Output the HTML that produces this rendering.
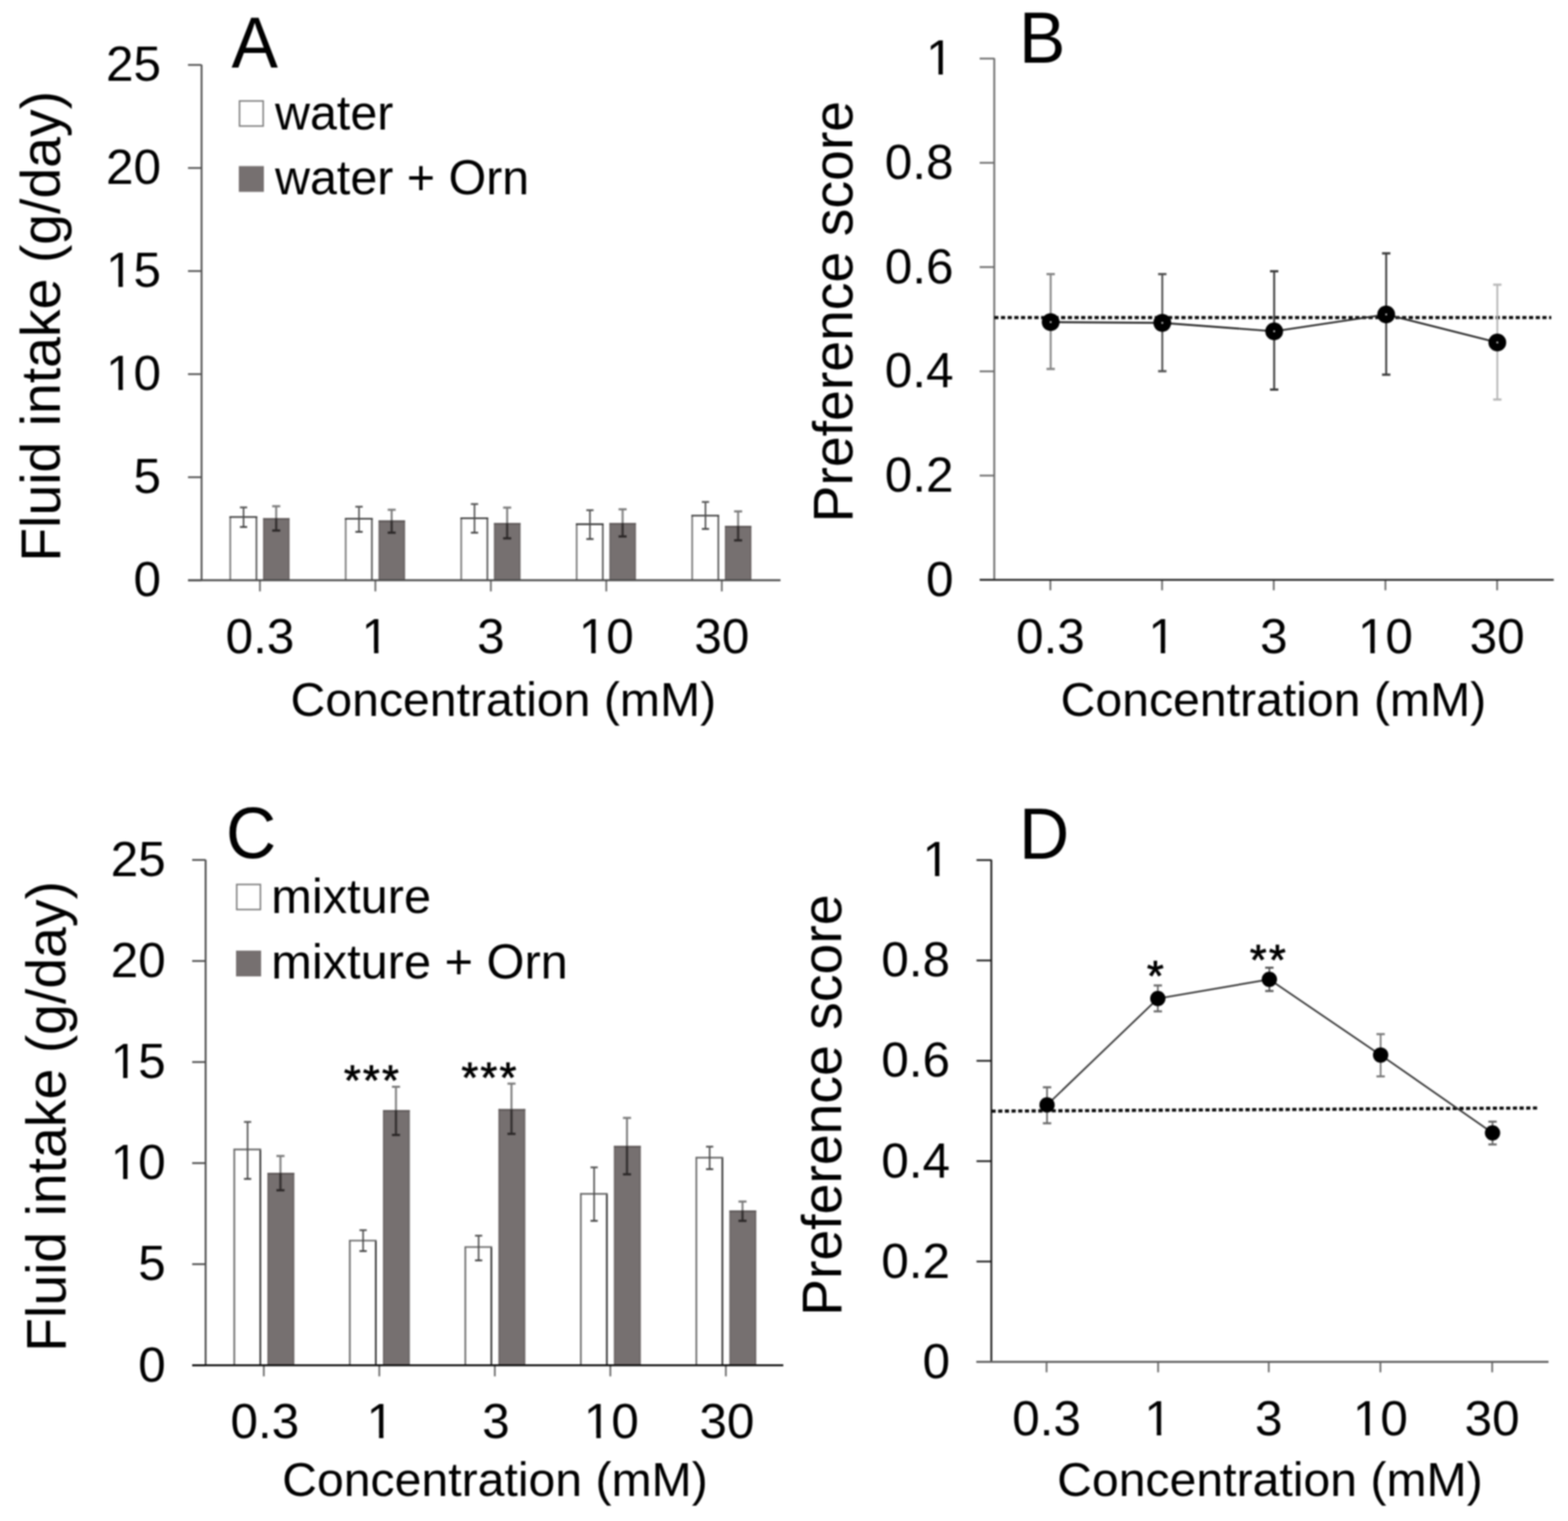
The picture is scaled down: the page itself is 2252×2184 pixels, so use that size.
<!DOCTYPE html>
<html><head><meta charset="utf-8"><title>Figure</title>
<style>html,body{margin:0;padding:0;background:#fff;}svg{display:block;filter:blur(0.9px);}</style>
</head><body>
<svg width="2252" height="2184" viewBox="0 0 2252 2184" font-family='"Liberation Sans", Arial, sans-serif' fill="#000">
<rect width="2252" height="2184" fill="#fff"/>
<line x1="270.0" y1="833.2" x2="289.5" y2="833.2" stroke="#505050" stroke-width="2.5" />
<text x="231.3" y="856.4" font-size="71" text-anchor="end" >0</text>
<line x1="270.0" y1="685.2" x2="289.5" y2="685.2" stroke="#505050" stroke-width="2.5" />
<text x="231.3" y="708.4" font-size="71" text-anchor="end" >5</text>
<line x1="270.0" y1="537.2" x2="289.5" y2="537.2" stroke="#505050" stroke-width="2.5" />
<text x="231.3" y="560.4" font-size="71" text-anchor="end" >10</text>
<rect x="156.23" y="553.90" width="13.95" height="8.00" fill="#fff"/>
<rect x="176.46" y="553.90" width="13.39" height="8.00" fill="#fff"/>
<line x1="270.0" y1="389.2" x2="289.5" y2="389.2" stroke="#505050" stroke-width="2.5" />
<text x="231.3" y="412.4" font-size="71" text-anchor="end" >15</text>
<rect x="156.23" y="405.90" width="13.95" height="8.00" fill="#fff"/>
<rect x="176.46" y="405.90" width="13.39" height="8.00" fill="#fff"/>
<line x1="270.0" y1="241.2" x2="289.5" y2="241.2" stroke="#505050" stroke-width="2.5" />
<text x="231.3" y="264.4" font-size="71" text-anchor="end" >20</text>
<line x1="270.0" y1="93.2" x2="289.5" y2="93.2" stroke="#505050" stroke-width="2.5" />
<text x="231.3" y="116.4" font-size="71" text-anchor="end" >25</text>
<rect x="377.9" y="743.9" width="37.8" height="89.3" fill="#767070"/>
<line x1="378.9" y1="743.9" x2="378.9" y2="833.2" stroke="#6a6464" stroke-width="2" />
<line x1="414.7" y1="743.9" x2="414.7" y2="833.2" stroke="#6a6464" stroke-width="2" />
<line x1="377.9" y1="745.1" x2="415.7" y2="745.1" stroke="#5e5858" stroke-width="2.4" />
<line x1="330.7" y1="742.4" x2="330.7" y2="833.2" stroke="#7a7a7a" stroke-width="2.4" />
<line x1="368.3" y1="742.4" x2="368.3" y2="833.2" stroke="#5a5a5a" stroke-width="2.4" />
<line x1="329.5" y1="742.4" x2="369.5" y2="742.4" stroke="#383838" stroke-width="2.4" />
<line x1="349.8" y1="728.6" x2="349.8" y2="756.7" stroke="#4a4a4a" stroke-width="2.2" />
<line x1="344.6" y1="728.6" x2="355.0" y2="728.6" stroke="#555" stroke-width="2.6" />
<line x1="344.6" y1="756.7" x2="355.0" y2="756.7" stroke="#444" stroke-width="2.6" />
<line x1="396.7" y1="726.9" x2="396.7" y2="743.9" stroke="#858585" stroke-width="3" />
<line x1="396.7" y1="743.9" x2="396.7" y2="761.8" stroke="#363232" stroke-width="3.4" />
<line x1="390.9" y1="726.9" x2="402.5" y2="726.9" stroke="#7a7a7a" stroke-width="3" />
<line x1="390.9" y1="761.8" x2="402.5" y2="761.8" stroke="#2a2626" stroke-width="3.2" />
<line x1="373.3" y1="833.2" x2="373.3" y2="849.2" stroke="#6a6a6a" stroke-width="2.5" />
<rect x="543.8" y="747.3" width="37.8" height="85.9" fill="#767070"/>
<line x1="544.8" y1="747.3" x2="544.8" y2="833.2" stroke="#6a6464" stroke-width="2" />
<line x1="580.5" y1="747.3" x2="580.5" y2="833.2" stroke="#6a6464" stroke-width="2" />
<line x1="543.8" y1="748.5" x2="581.5" y2="748.5" stroke="#5e5858" stroke-width="2.4" />
<line x1="496.5" y1="744.9" x2="496.5" y2="833.2" stroke="#7a7a7a" stroke-width="2.4" />
<line x1="534.1" y1="744.9" x2="534.1" y2="833.2" stroke="#5a5a5a" stroke-width="2.4" />
<line x1="495.3" y1="744.9" x2="535.4" y2="744.9" stroke="#383838" stroke-width="2.4" />
<line x1="515.6" y1="727.6" x2="515.6" y2="763.7" stroke="#4a4a4a" stroke-width="2.2" />
<line x1="510.4" y1="727.6" x2="520.9" y2="727.6" stroke="#555" stroke-width="2.6" />
<line x1="510.4" y1="763.7" x2="520.9" y2="763.7" stroke="#444" stroke-width="2.6" />
<line x1="562.5" y1="732.0" x2="562.5" y2="747.3" stroke="#858585" stroke-width="3" />
<line x1="562.5" y1="747.3" x2="562.5" y2="764.9" stroke="#363232" stroke-width="3.4" />
<line x1="556.8" y1="732.0" x2="568.3" y2="732.0" stroke="#7a7a7a" stroke-width="3" />
<line x1="556.8" y1="764.9" x2="568.3" y2="764.9" stroke="#2a2626" stroke-width="3.2" />
<line x1="539.1" y1="833.2" x2="539.1" y2="849.2" stroke="#6a6a6a" stroke-width="2.5" />
<rect x="709.6" y="750.9" width="37.8" height="82.3" fill="#767070"/>
<line x1="710.6" y1="750.9" x2="710.6" y2="833.2" stroke="#6a6464" stroke-width="2" />
<line x1="746.4" y1="750.9" x2="746.4" y2="833.2" stroke="#6a6464" stroke-width="2" />
<line x1="709.6" y1="752.1" x2="747.4" y2="752.1" stroke="#5e5858" stroke-width="2.4" />
<line x1="662.4" y1="744.1" x2="662.4" y2="833.2" stroke="#7a7a7a" stroke-width="2.4" />
<line x1="700.0" y1="744.1" x2="700.0" y2="833.2" stroke="#5a5a5a" stroke-width="2.4" />
<line x1="661.2" y1="744.1" x2="701.2" y2="744.1" stroke="#383838" stroke-width="2.4" />
<line x1="681.5" y1="723.8" x2="681.5" y2="764.9" stroke="#4a4a4a" stroke-width="2.2" />
<line x1="676.3" y1="723.8" x2="686.7" y2="723.8" stroke="#555" stroke-width="2.6" />
<line x1="676.3" y1="764.9" x2="686.7" y2="764.9" stroke="#444" stroke-width="2.6" />
<line x1="728.4" y1="728.9" x2="728.4" y2="750.9" stroke="#858585" stroke-width="3" />
<line x1="728.4" y1="750.9" x2="728.4" y2="773.0" stroke="#363232" stroke-width="3.4" />
<line x1="722.6" y1="728.9" x2="734.2" y2="728.9" stroke="#7a7a7a" stroke-width="3" />
<line x1="722.6" y1="773.0" x2="734.2" y2="773.0" stroke="#2a2626" stroke-width="3.2" />
<line x1="705.0" y1="833.2" x2="705.0" y2="849.2" stroke="#6a6a6a" stroke-width="2.5" />
<rect x="875.4" y="750.9" width="37.8" height="82.3" fill="#767070"/>
<line x1="876.4" y1="750.9" x2="876.4" y2="833.2" stroke="#6a6464" stroke-width="2" />
<line x1="912.2" y1="750.9" x2="912.2" y2="833.2" stroke="#6a6464" stroke-width="2" />
<line x1="875.4" y1="752.1" x2="913.2" y2="752.1" stroke="#5e5858" stroke-width="2.4" />
<line x1="828.2" y1="752.7" x2="828.2" y2="833.2" stroke="#7a7a7a" stroke-width="2.4" />
<line x1="865.8" y1="752.7" x2="865.8" y2="833.2" stroke="#5a5a5a" stroke-width="2.4" />
<line x1="827.0" y1="752.7" x2="867.0" y2="752.7" stroke="#383838" stroke-width="2.4" />
<line x1="847.3" y1="732.6" x2="847.3" y2="774.0" stroke="#4a4a4a" stroke-width="2.2" />
<line x1="842.1" y1="732.6" x2="852.5" y2="732.6" stroke="#555" stroke-width="2.6" />
<line x1="842.1" y1="774.0" x2="852.5" y2="774.0" stroke="#444" stroke-width="2.6" />
<line x1="894.2" y1="731.3" x2="894.2" y2="750.9" stroke="#858585" stroke-width="3" />
<line x1="894.2" y1="750.9" x2="894.2" y2="770.3" stroke="#363232" stroke-width="3.4" />
<line x1="888.4" y1="731.3" x2="900.0" y2="731.3" stroke="#7a7a7a" stroke-width="3" />
<line x1="888.4" y1="770.3" x2="900.0" y2="770.3" stroke="#2a2626" stroke-width="3.2" />
<line x1="870.8" y1="833.2" x2="870.8" y2="849.2" stroke="#6a6a6a" stroke-width="2.5" />
<rect x="1041.3" y="755.1" width="37.8" height="78.1" fill="#767070"/>
<line x1="1042.3" y1="755.1" x2="1042.3" y2="833.2" stroke="#6a6464" stroke-width="2" />
<line x1="1078.1" y1="755.1" x2="1078.1" y2="833.2" stroke="#6a6464" stroke-width="2" />
<line x1="1041.3" y1="756.3" x2="1079.1" y2="756.3" stroke="#5e5858" stroke-width="2.4" />
<line x1="994.1" y1="740.4" x2="994.1" y2="833.2" stroke="#7a7a7a" stroke-width="2.4" />
<line x1="1031.7" y1="740.4" x2="1031.7" y2="833.2" stroke="#5a5a5a" stroke-width="2.4" />
<line x1="992.9" y1="740.4" x2="1032.9" y2="740.4" stroke="#383838" stroke-width="2.4" />
<line x1="1013.2" y1="720.8" x2="1013.2" y2="759.5" stroke="#4a4a4a" stroke-width="2.2" />
<line x1="1008.0" y1="720.8" x2="1018.4" y2="720.8" stroke="#555" stroke-width="2.6" />
<line x1="1008.0" y1="759.5" x2="1018.4" y2="759.5" stroke="#444" stroke-width="2.6" />
<line x1="1060.1" y1="734.3" x2="1060.1" y2="755.1" stroke="#858585" stroke-width="3" />
<line x1="1060.1" y1="755.1" x2="1060.1" y2="775.9" stroke="#363232" stroke-width="3.4" />
<line x1="1054.3" y1="734.3" x2="1065.9" y2="734.3" stroke="#7a7a7a" stroke-width="3" />
<line x1="1054.3" y1="775.9" x2="1065.9" y2="775.9" stroke="#2a2626" stroke-width="3.2" />
<line x1="1036.7" y1="833.2" x2="1036.7" y2="849.2" stroke="#6a6a6a" stroke-width="2.5" />
<line x1="289.5" y1="93.0" x2="289.5" y2="833.2" stroke="#505050" stroke-width="2.6" />
<line x1="270.0" y1="833.2" x2="1121.0" y2="833.2" stroke="#484848" stroke-width="2.8" />
<text x="373.3" y="938.2" font-size="71" text-anchor="middle" >0.3</text>
<text x="539.1" y="938.2" font-size="71" text-anchor="middle" >1</text>
<rect x="523.31" y="931.70" width="13.95" height="8.00" fill="#fff"/>
<rect x="543.54" y="931.70" width="13.39" height="8.00" fill="#fff"/>
<text x="705.0" y="938.2" font-size="71" text-anchor="middle" >3</text>
<text x="870.8" y="938.2" font-size="71" text-anchor="middle" >10</text>
<rect x="835.27" y="931.70" width="13.95" height="8.00" fill="#fff"/>
<rect x="855.49" y="931.70" width="13.39" height="8.00" fill="#fff"/>
<text x="1036.7" y="938.2" font-size="71" text-anchor="middle" >30</text>
<text x="417.3" y="1027.6" font-size="69.2" text-anchor="start" >Concentration (mM)</text>
<text transform="translate(86.4,806.5) rotate(-90)" font-size="79.5">Fluid intake (g/day)</text>
<rect x="344.0" y="145.0" width="34.0" height="36.0" fill="#fff" stroke="#808080" stroke-width="2.2"/>
<rect x="343.0" y="238.5" width="36.0" height="37.0" fill="#767070"/>
<text x="395.0" y="186.2" font-size="69.5" text-anchor="start" >water</text>
<text x="395.0" y="279.3" font-size="69.5" text-anchor="start" >water + Orn</text>
<text transform="translate(332.5,96.5) scale(1,1.035)" font-size="100">A</text>
<line x1="276.0" y1="1960.3" x2="295.3" y2="1960.3" stroke="#484848" stroke-width="2.5" />
<text x="238.0" y="1983.5" font-size="71" text-anchor="end" >0</text>
<line x1="276.0" y1="1815.2" x2="295.3" y2="1815.2" stroke="#484848" stroke-width="2.5" />
<text x="238.0" y="1838.4" font-size="71" text-anchor="end" >5</text>
<line x1="276.0" y1="1670.1" x2="295.3" y2="1670.1" stroke="#484848" stroke-width="2.5" />
<text x="238.0" y="1693.3" font-size="71" text-anchor="end" >10</text>
<rect x="162.93" y="1686.80" width="13.95" height="8.00" fill="#fff"/>
<rect x="183.16" y="1686.80" width="13.39" height="8.00" fill="#fff"/>
<line x1="276.0" y1="1525.0" x2="295.3" y2="1525.0" stroke="#484848" stroke-width="2.5" />
<text x="238.0" y="1548.2" font-size="71" text-anchor="end" >15</text>
<rect x="162.93" y="1541.70" width="13.95" height="8.00" fill="#fff"/>
<rect x="183.16" y="1541.70" width="13.39" height="8.00" fill="#fff"/>
<line x1="276.0" y1="1379.9" x2="295.3" y2="1379.9" stroke="#484848" stroke-width="2.5" />
<text x="238.0" y="1403.1" font-size="71" text-anchor="end" >20</text>
<line x1="276.0" y1="1234.8" x2="295.3" y2="1234.8" stroke="#484848" stroke-width="2.5" />
<text x="238.0" y="1258.0" font-size="71" text-anchor="end" >25</text>
<rect x="384.1" y="1684.1" width="38.4" height="276.2" fill="#767070"/>
<line x1="385.1" y1="1684.1" x2="385.1" y2="1960.3" stroke="#6a6464" stroke-width="2" />
<line x1="421.5" y1="1684.1" x2="421.5" y2="1960.3" stroke="#6a6464" stroke-width="2" />
<line x1="384.1" y1="1685.3" x2="422.5" y2="1685.3" stroke="#5e5858" stroke-width="2.4" />
<line x1="336.5" y1="1650.5" x2="336.5" y2="1960.3" stroke="#6a6a6a" stroke-width="2.4" />
<line x1="373.9" y1="1650.5" x2="373.9" y2="1960.3" stroke="#2e2e2e" stroke-width="2.4" />
<line x1="335.3" y1="1650.5" x2="375.1" y2="1650.5" stroke="#6a6a6a" stroke-width="2.4" />
<line x1="355.6" y1="1611.0" x2="355.6" y2="1692.8" stroke="#4a4a4a" stroke-width="2.2" />
<line x1="350.4" y1="1611.0" x2="360.8" y2="1611.0" stroke="#555" stroke-width="2.6" />
<line x1="350.4" y1="1692.8" x2="360.8" y2="1692.8" stroke="#444" stroke-width="2.6" />
<line x1="402.8" y1="1659.9" x2="402.8" y2="1684.1" stroke="#858585" stroke-width="3" />
<line x1="402.8" y1="1684.1" x2="402.8" y2="1709.1" stroke="#363232" stroke-width="3.4" />
<line x1="397.0" y1="1659.9" x2="408.6" y2="1659.9" stroke="#7a7a7a" stroke-width="3" />
<line x1="397.0" y1="1709.1" x2="408.6" y2="1709.1" stroke="#2a2626" stroke-width="3.2" />
<line x1="378.9" y1="1960.3" x2="378.9" y2="1976.3" stroke="#6a6a6a" stroke-width="2.5" />
<rect x="550.0" y="1593.9" width="38.4" height="366.4" fill="#767070"/>
<line x1="551.0" y1="1593.9" x2="551.0" y2="1960.3" stroke="#6a6464" stroke-width="2" />
<line x1="587.4" y1="1593.9" x2="587.4" y2="1960.3" stroke="#6a6464" stroke-width="2" />
<line x1="550.0" y1="1595.1" x2="588.4" y2="1595.1" stroke="#5e5858" stroke-width="2.4" />
<line x1="502.4" y1="1781.4" x2="502.4" y2="1960.3" stroke="#6a6a6a" stroke-width="2.4" />
<line x1="539.8" y1="1781.4" x2="539.8" y2="1960.3" stroke="#2e2e2e" stroke-width="2.4" />
<line x1="501.2" y1="1781.4" x2="541.0" y2="1781.4" stroke="#6a6a6a" stroke-width="2.4" />
<line x1="521.5" y1="1766.4" x2="521.5" y2="1796.4" stroke="#4a4a4a" stroke-width="2.2" />
<line x1="516.3" y1="1766.4" x2="526.7" y2="1766.4" stroke="#555" stroke-width="2.6" />
<line x1="516.3" y1="1796.4" x2="526.7" y2="1796.4" stroke="#444" stroke-width="2.6" />
<line x1="568.7" y1="1560.5" x2="568.7" y2="1593.9" stroke="#858585" stroke-width="3" />
<line x1="568.7" y1="1593.9" x2="568.7" y2="1629.7" stroke="#363232" stroke-width="3.4" />
<line x1="562.9" y1="1560.5" x2="574.5" y2="1560.5" stroke="#7a7a7a" stroke-width="3" />
<line x1="562.9" y1="1629.7" x2="574.5" y2="1629.7" stroke="#2a2626" stroke-width="3.2" />
<line x1="544.8" y1="1960.3" x2="544.8" y2="1976.3" stroke="#6a6a6a" stroke-width="2.5" />
<rect x="715.9" y="1592.6" width="38.4" height="367.7" fill="#767070"/>
<line x1="716.9" y1="1592.6" x2="716.9" y2="1960.3" stroke="#6a6464" stroke-width="2" />
<line x1="753.3" y1="1592.6" x2="753.3" y2="1960.3" stroke="#6a6464" stroke-width="2" />
<line x1="715.9" y1="1593.8" x2="754.3" y2="1593.8" stroke="#5e5858" stroke-width="2.4" />
<line x1="668.3" y1="1790.6" x2="668.3" y2="1960.3" stroke="#6a6a6a" stroke-width="2.4" />
<line x1="705.7" y1="1790.6" x2="705.7" y2="1960.3" stroke="#2e2e2e" stroke-width="2.4" />
<line x1="667.1" y1="1790.6" x2="706.9" y2="1790.6" stroke="#6a6a6a" stroke-width="2.4" />
<line x1="687.4" y1="1774.3" x2="687.4" y2="1809.8" stroke="#4a4a4a" stroke-width="2.2" />
<line x1="682.2" y1="1774.3" x2="692.6" y2="1774.3" stroke="#555" stroke-width="2.6" />
<line x1="682.2" y1="1809.8" x2="692.6" y2="1809.8" stroke="#444" stroke-width="2.6" />
<line x1="734.6" y1="1556.0" x2="734.6" y2="1592.6" stroke="#858585" stroke-width="3" />
<line x1="734.6" y1="1592.6" x2="734.6" y2="1628.1" stroke="#363232" stroke-width="3.4" />
<line x1="728.8" y1="1556.0" x2="740.4" y2="1556.0" stroke="#7a7a7a" stroke-width="3" />
<line x1="728.8" y1="1628.1" x2="740.4" y2="1628.1" stroke="#2a2626" stroke-width="3.2" />
<line x1="710.7" y1="1960.3" x2="710.7" y2="1976.3" stroke="#6a6a6a" stroke-width="2.5" />
<rect x="881.8" y="1645.4" width="38.4" height="314.9" fill="#767070"/>
<line x1="882.8" y1="1645.4" x2="882.8" y2="1960.3" stroke="#6a6464" stroke-width="2" />
<line x1="919.2" y1="1645.4" x2="919.2" y2="1960.3" stroke="#6a6464" stroke-width="2" />
<line x1="881.8" y1="1646.6" x2="920.2" y2="1646.6" stroke="#5e5858" stroke-width="2.4" />
<line x1="834.2" y1="1714.3" x2="834.2" y2="1960.3" stroke="#6a6a6a" stroke-width="2.4" />
<line x1="871.6" y1="1714.3" x2="871.6" y2="1960.3" stroke="#2e2e2e" stroke-width="2.4" />
<line x1="833.0" y1="1714.3" x2="872.8" y2="1714.3" stroke="#6a6a6a" stroke-width="2.4" />
<line x1="853.3" y1="1676.2" x2="853.3" y2="1753.0" stroke="#4a4a4a" stroke-width="2.2" />
<line x1="848.1" y1="1676.2" x2="858.5" y2="1676.2" stroke="#555" stroke-width="2.6" />
<line x1="848.1" y1="1753.0" x2="858.5" y2="1753.0" stroke="#444" stroke-width="2.6" />
<line x1="900.5" y1="1605.2" x2="900.5" y2="1645.4" stroke="#858585" stroke-width="3" />
<line x1="900.5" y1="1645.4" x2="900.5" y2="1686.2" stroke="#363232" stroke-width="3.4" />
<line x1="894.7" y1="1605.2" x2="906.3" y2="1605.2" stroke="#7a7a7a" stroke-width="3" />
<line x1="894.7" y1="1686.2" x2="906.3" y2="1686.2" stroke="#2a2626" stroke-width="3.2" />
<line x1="876.6" y1="1960.3" x2="876.6" y2="1976.3" stroke="#6a6a6a" stroke-width="2.5" />
<rect x="1047.7" y="1738.0" width="38.4" height="222.3" fill="#767070"/>
<line x1="1048.7" y1="1738.0" x2="1048.7" y2="1960.3" stroke="#6a6464" stroke-width="2" />
<line x1="1085.1" y1="1738.0" x2="1085.1" y2="1960.3" stroke="#6a6464" stroke-width="2" />
<line x1="1047.7" y1="1739.2" x2="1086.1" y2="1739.2" stroke="#5e5858" stroke-width="2.4" />
<line x1="1000.1" y1="1662.2" x2="1000.1" y2="1960.3" stroke="#6a6a6a" stroke-width="2.4" />
<line x1="1037.5" y1="1662.2" x2="1037.5" y2="1960.3" stroke="#2e2e2e" stroke-width="2.4" />
<line x1="998.9" y1="1662.2" x2="1038.7" y2="1662.2" stroke="#6a6a6a" stroke-width="2.4" />
<line x1="1019.2" y1="1646.5" x2="1019.2" y2="1678.8" stroke="#4a4a4a" stroke-width="2.2" />
<line x1="1014.0" y1="1646.5" x2="1024.4" y2="1646.5" stroke="#555" stroke-width="2.6" />
<line x1="1014.0" y1="1678.8" x2="1024.4" y2="1678.8" stroke="#444" stroke-width="2.6" />
<line x1="1066.4" y1="1725.3" x2="1066.4" y2="1738.0" stroke="#858585" stroke-width="3" />
<line x1="1066.4" y1="1738.0" x2="1066.4" y2="1753.0" stroke="#363232" stroke-width="3.4" />
<line x1="1060.6" y1="1725.3" x2="1072.2" y2="1725.3" stroke="#7a7a7a" stroke-width="3" />
<line x1="1060.6" y1="1753.0" x2="1072.2" y2="1753.0" stroke="#2a2626" stroke-width="3.2" />
<line x1="1042.5" y1="1960.3" x2="1042.5" y2="1976.3" stroke="#6a6a6a" stroke-width="2.5" />
<line x1="295.3" y1="1234.5" x2="295.3" y2="1960.3" stroke="#484848" stroke-width="2.6" />
<line x1="276.0" y1="1960.3" x2="1125.0" y2="1960.3" stroke="#0a0a0a" stroke-width="2.8" />
<text x="380.4" y="2065.3" font-size="71" text-anchor="middle" >0.3</text>
<text x="546.3" y="2065.3" font-size="71" text-anchor="middle" >1</text>
<rect x="530.46" y="2058.80" width="13.95" height="8.00" fill="#fff"/>
<rect x="550.69" y="2058.80" width="13.39" height="8.00" fill="#fff"/>
<text x="712.2" y="2065.3" font-size="71" text-anchor="middle" >3</text>
<text x="878.1" y="2065.3" font-size="71" text-anchor="middle" >10</text>
<rect x="842.52" y="2058.80" width="13.95" height="8.00" fill="#fff"/>
<rect x="862.74" y="2058.80" width="13.39" height="8.00" fill="#fff"/>
<text x="1044.0" y="2065.3" font-size="71" text-anchor="middle" >30</text>
<text x="405.2" y="2147.5" font-size="69.2" text-anchor="start" >Concentration (mM)</text>
<text transform="translate(93.5,1941.0) rotate(-90)" font-size="79.5">Fluid intake (g/day)</text>
<rect x="340.0" y="1270.0" width="34.0" height="36.0" fill="#fff" stroke="#808080" stroke-width="2.2"/>
<rect x="339.0" y="1365.0" width="36.0" height="37.0" fill="#767070"/>
<text x="389.6" y="1311.4" font-size="70" text-anchor="start" >mixture</text>
<text x="389.6" y="1405.4" font-size="70" text-anchor="start" >mixture + Orn</text>
<text transform="translate(324.5,1231.8) scale(1,1.035)" font-size="100">C</text>
<text x="493.9" y="1571.7" font-size="62" text-anchor="start" letter-spacing="3.3" stroke="#000" stroke-width="1.1">***</text>
<text x="662.7" y="1568.0" font-size="62" text-anchor="start" letter-spacing="3.3" stroke="#000" stroke-width="1.1">***</text>
<line x1="1407.0" y1="832.6" x2="1428.0" y2="832.6" stroke="#6a6a6a" stroke-width="2.5" />
<text x="1369.5" y="855.8" font-size="71" text-anchor="end" >0</text>
<line x1="1407.0" y1="682.9" x2="1428.0" y2="682.9" stroke="#6a6a6a" stroke-width="2.5" />
<text x="1369.5" y="706.1" font-size="71" text-anchor="end" >0.2</text>
<line x1="1407.0" y1="533.2" x2="1428.0" y2="533.2" stroke="#6a6a6a" stroke-width="2.5" />
<text x="1369.5" y="556.4" font-size="71" text-anchor="end" >0.4</text>
<line x1="1407.0" y1="383.5" x2="1428.0" y2="383.5" stroke="#6a6a6a" stroke-width="2.5" />
<text x="1369.5" y="406.7" font-size="71" text-anchor="end" >0.6</text>
<line x1="1407.0" y1="233.8" x2="1428.0" y2="233.8" stroke="#6a6a6a" stroke-width="2.5" />
<text x="1369.5" y="257.0" font-size="71" text-anchor="end" >0.8</text>
<line x1="1407.0" y1="84.1" x2="1428.0" y2="84.1" stroke="#6a6a6a" stroke-width="2.5" />
<text x="1369.5" y="107.3" font-size="71" text-anchor="end" >1</text>
<rect x="1333.92" y="100.80" width="13.95" height="8.00" fill="#fff"/>
<rect x="1354.14" y="100.80" width="13.39" height="8.00" fill="#fff"/>
<line x1="1508.6" y1="832.6" x2="1508.6" y2="847.6" stroke="#6a6a6a" stroke-width="2.5" />
<line x1="1669.0" y1="832.6" x2="1669.0" y2="847.6" stroke="#6a6a6a" stroke-width="2.5" />
<line x1="1829.4" y1="832.6" x2="1829.4" y2="847.6" stroke="#6a6a6a" stroke-width="2.5" />
<line x1="1989.8" y1="832.6" x2="1989.8" y2="847.6" stroke="#6a6a6a" stroke-width="2.5" />
<line x1="2150.2" y1="832.6" x2="2150.2" y2="847.6" stroke="#6a6a6a" stroke-width="2.5" />
<line x1="1428.0" y1="83.5" x2="1428.0" y2="832.6" stroke="#6a6a6a" stroke-width="2.6" />
<line x1="1407.0" y1="832.6" x2="2231.5" y2="832.6" stroke="#2a2a2a" stroke-width="2.8" />
<line x1="1428.0" y1="456.0" x2="2228.0" y2="456.0" stroke="#0a0a0a" stroke-width="4.6" stroke-dasharray="6 3.6"/>
<line x1="1509.0" y1="393.6" x2="1509.0" y2="529.8" stroke="#858585" stroke-width="2.7" />
<line x1="1503.0" y1="393.6" x2="1515.0" y2="393.6" stroke="#858585" stroke-width="3.2" />
<line x1="1503.0" y1="529.8" x2="1515.0" y2="529.8" stroke="#858585" stroke-width="3.2" />
<line x1="1669.3" y1="393.6" x2="1669.3" y2="533.0" stroke="#505050" stroke-width="2.7" />
<line x1="1663.3" y1="393.6" x2="1675.3" y2="393.6" stroke="#505050" stroke-width="3.2" />
<line x1="1663.3" y1="533.0" x2="1675.3" y2="533.0" stroke="#505050" stroke-width="3.2" />
<line x1="1830.0" y1="389.5" x2="1830.0" y2="559.4" stroke="#383838" stroke-width="2.7" />
<line x1="1824.0" y1="389.5" x2="1836.0" y2="389.5" stroke="#383838" stroke-width="3.2" />
<line x1="1824.0" y1="559.4" x2="1836.0" y2="559.4" stroke="#383838" stroke-width="3.2" />
<line x1="1990.9" y1="363.8" x2="1990.9" y2="538.0" stroke="#383838" stroke-width="2.7" />
<line x1="1984.9" y1="363.8" x2="1996.9" y2="363.8" stroke="#383838" stroke-width="3.2" />
<line x1="1984.9" y1="538.0" x2="1996.9" y2="538.0" stroke="#383838" stroke-width="3.2" />
<line x1="2150.5" y1="408.8" x2="2150.5" y2="573.7" stroke="#b8b8b8" stroke-width="2.7" />
<line x1="2144.5" y1="408.8" x2="2156.5" y2="408.8" stroke="#b8b8b8" stroke-width="3.2" />
<line x1="2144.5" y1="573.7" x2="2156.5" y2="573.7" stroke="#b8b8b8" stroke-width="3.2" />
<polyline points="1509.0,462.5 1669.3,463.6 1830.0,475.7 1990.9,451.5 2150.5,491.8" fill="none" stroke="#262626" stroke-width="2.6"/>
<circle cx="1509.0" cy="462.5" r="12.8" fill="#000"/>
<rect x="1507.8" y="461.3" width="2.4" height="2.4" fill="#ddd"/>
<circle cx="1669.3" cy="463.6" r="12.8" fill="#000"/>
<rect x="1668.1" y="462.4" width="2.4" height="2.4" fill="#ddd"/>
<circle cx="1830.0" cy="475.7" r="12.8" fill="#000"/>
<rect x="1828.8" y="474.5" width="2.4" height="2.4" fill="#ddd"/>
<circle cx="1990.9" cy="451.5" r="12.8" fill="#000"/>
<rect x="1989.7" y="450.3" width="2.4" height="2.4" fill="#ddd"/>
<circle cx="2150.5" cy="491.8" r="12.8" fill="#000"/>
<rect x="2149.3" y="490.6" width="2.4" height="2.4" fill="#ddd"/>
<text x="1508.6" y="937.6" font-size="71" text-anchor="middle" >0.3</text>
<text x="1669.0" y="937.6" font-size="71" text-anchor="middle" >1</text>
<rect x="1653.16" y="931.10" width="13.95" height="8.00" fill="#fff"/>
<rect x="1673.39" y="931.10" width="13.39" height="8.00" fill="#fff"/>
<text x="1829.4" y="937.6" font-size="71" text-anchor="middle" >3</text>
<text x="1989.8" y="937.6" font-size="71" text-anchor="middle" >10</text>
<rect x="1954.22" y="931.10" width="13.95" height="8.00" fill="#fff"/>
<rect x="1974.44" y="931.10" width="13.39" height="8.00" fill="#fff"/>
<text x="2150.2" y="937.6" font-size="71" text-anchor="middle" >30</text>
<text x="1523.3" y="1028.2" font-size="69.2" text-anchor="start" >Concentration (mM)</text>
<text transform="translate(1223.6,750.3) rotate(-90)" font-size="79.5">Preference score</text>
<text transform="translate(1463.4,90.0) scale(1,1.035)" font-size="100">B</text>
<line x1="1402.5" y1="1955.5" x2="1423.8" y2="1955.5" stroke="#1a1a1a" stroke-width="2.5" />
<text x="1364.5" y="1978.7" font-size="71" text-anchor="end" >0</text>
<line x1="1402.5" y1="1811.4" x2="1423.8" y2="1811.4" stroke="#1a1a1a" stroke-width="2.5" />
<text x="1364.5" y="1834.6" font-size="71" text-anchor="end" >0.2</text>
<line x1="1402.5" y1="1667.3" x2="1423.8" y2="1667.3" stroke="#1a1a1a" stroke-width="2.5" />
<text x="1364.5" y="1690.5" font-size="71" text-anchor="end" >0.4</text>
<line x1="1402.5" y1="1523.2" x2="1423.8" y2="1523.2" stroke="#1a1a1a" stroke-width="2.5" />
<text x="1364.5" y="1546.4" font-size="71" text-anchor="end" >0.6</text>
<line x1="1402.5" y1="1379.1" x2="1423.8" y2="1379.1" stroke="#1a1a1a" stroke-width="2.5" />
<text x="1364.5" y="1402.3" font-size="71" text-anchor="end" >0.8</text>
<line x1="1402.5" y1="1235.0" x2="1423.8" y2="1235.0" stroke="#1a1a1a" stroke-width="2.5" />
<text x="1364.5" y="1258.2" font-size="71" text-anchor="end" >1</text>
<rect x="1328.92" y="1251.70" width="13.95" height="8.00" fill="#fff"/>
<rect x="1349.14" y="1251.70" width="13.39" height="8.00" fill="#fff"/>
<line x1="1503.1" y1="1955.5" x2="1503.1" y2="1970.5" stroke="#6a6a6a" stroke-width="2.5" />
<line x1="1663.3" y1="1955.5" x2="1663.3" y2="1970.5" stroke="#6a6a6a" stroke-width="2.5" />
<line x1="1822.2" y1="1955.5" x2="1822.2" y2="1970.5" stroke="#6a6a6a" stroke-width="2.5" />
<line x1="1982.6" y1="1955.5" x2="1982.6" y2="1970.5" stroke="#6a6a6a" stroke-width="2.5" />
<line x1="2143.1" y1="1955.5" x2="2143.1" y2="1970.5" stroke="#6a6a6a" stroke-width="2.5" />
<line x1="1423.8" y1="1234.5" x2="1423.8" y2="1955.5" stroke="#1a1a1a" stroke-width="2.6" />
<line x1="1402.5" y1="1955.5" x2="2224.0" y2="1955.5" stroke="#646464" stroke-width="2.8" />
<line x1="1424.0" y1="1595.5" x2="2208.0" y2="1591.0" stroke="#0a0a0a" stroke-width="4.6" stroke-dasharray="6 3.6"/>
<line x1="1503.8" y1="1561.2" x2="1503.8" y2="1612.9" stroke="#666" stroke-width="2.4" />
<line x1="1497.8" y1="1561.2" x2="1509.8" y2="1561.2" stroke="#666" stroke-width="2.9" />
<line x1="1497.8" y1="1612.9" x2="1509.8" y2="1612.9" stroke="#666" stroke-width="2.9" />
<line x1="1662.9" y1="1415.0" x2="1662.9" y2="1452.2" stroke="#666" stroke-width="2.4" />
<line x1="1656.9" y1="1415.0" x2="1668.9" y2="1415.0" stroke="#666" stroke-width="2.9" />
<line x1="1656.9" y1="1452.2" x2="1668.9" y2="1452.2" stroke="#666" stroke-width="2.9" />
<line x1="1823.1" y1="1389.5" x2="1823.1" y2="1423.0" stroke="#555" stroke-width="2.4" />
<line x1="1817.1" y1="1389.5" x2="1829.1" y2="1389.5" stroke="#555" stroke-width="2.9" />
<line x1="1817.1" y1="1423.0" x2="1829.1" y2="1423.0" stroke="#555" stroke-width="2.9" />
<line x1="1982.9" y1="1484.9" x2="1982.9" y2="1545.6" stroke="#777" stroke-width="2.4" />
<line x1="1976.9" y1="1484.9" x2="1988.9" y2="1484.9" stroke="#777" stroke-width="2.9" />
<line x1="1976.9" y1="1545.6" x2="1988.9" y2="1545.6" stroke="#777" stroke-width="2.9" />
<line x1="2143.6" y1="1610.6" x2="2143.6" y2="1643.3" stroke="#666" stroke-width="2.4" />
<line x1="2137.6" y1="1610.6" x2="2149.6" y2="1610.6" stroke="#666" stroke-width="2.9" />
<line x1="2137.6" y1="1643.3" x2="2149.6" y2="1643.3" stroke="#666" stroke-width="2.9" />
<polyline points="1503.8,1586.5 1662.9,1433.8 1823.1,1406.3 1982.9,1514.9 2143.6,1626.7" fill="none" stroke="#333" stroke-width="2.4"/>
<circle cx="1503.8" cy="1586.5" r="11" fill="#000"/>
<circle cx="1662.9" cy="1433.8" r="11" fill="#000"/>
<circle cx="1823.1" cy="1406.3" r="11" fill="#000"/>
<circle cx="1982.9" cy="1514.9" r="11" fill="#000"/>
<circle cx="2143.6" cy="1626.7" r="11" fill="#000"/>
<text x="1503.1" y="2060.8" font-size="71" text-anchor="middle" >0.3</text>
<text x="1663.3" y="2060.8" font-size="71" text-anchor="middle" >1</text>
<rect x="1647.46" y="2054.30" width="13.95" height="8.00" fill="#fff"/>
<rect x="1667.69" y="2054.30" width="13.39" height="8.00" fill="#fff"/>
<text x="1822.2" y="2060.8" font-size="71" text-anchor="middle" >3</text>
<text x="1982.6" y="2060.8" font-size="71" text-anchor="middle" >10</text>
<rect x="1947.02" y="2054.30" width="13.95" height="8.00" fill="#fff"/>
<rect x="1967.24" y="2054.30" width="13.39" height="8.00" fill="#fff"/>
<text x="2143.1" y="2060.8" font-size="71" text-anchor="middle" >30</text>
<text x="1518.2" y="2147.5" font-size="69.2" text-anchor="start" >Concentration (mM)</text>
<text transform="translate(1207.7,1889.6) rotate(-90)" font-size="79.5">Preference score</text>
<text transform="translate(1463.4,1233.0) scale(1,1.035)" font-size="100">D</text>
<text x="1647.2" y="1422.2" font-size="62" text-anchor="start" letter-spacing="3.3" stroke="#000" stroke-width="1.1">*</text>
<text x="1795.1" y="1399.2" font-size="62" text-anchor="start" letter-spacing="3.3" stroke="#000" stroke-width="1.1">**</text>
</svg>
</body></html>
